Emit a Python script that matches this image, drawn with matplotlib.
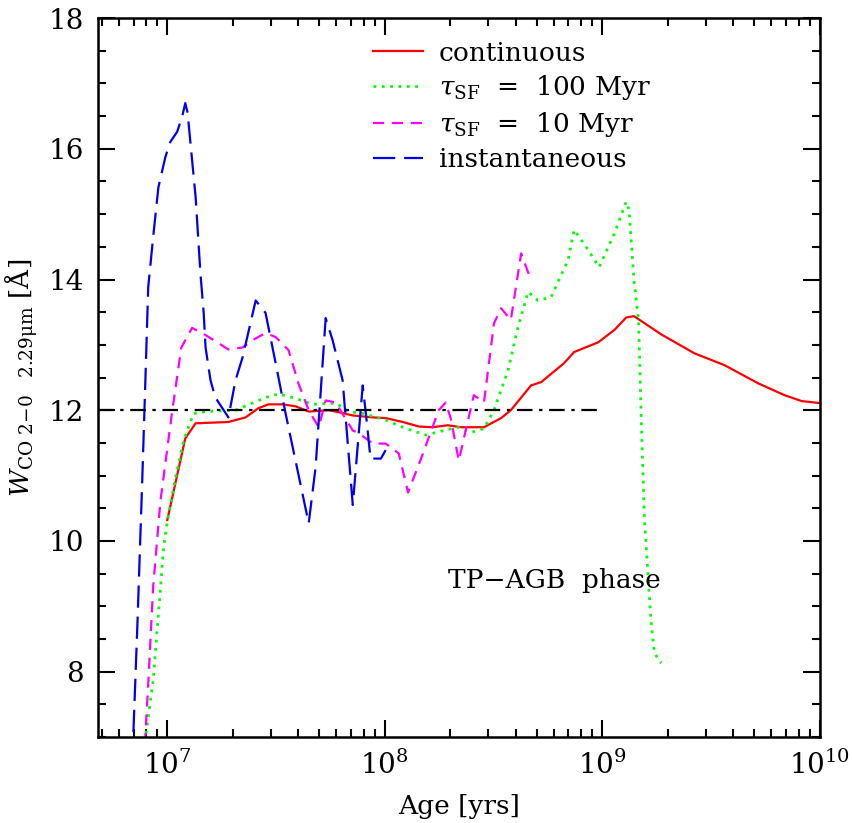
import matplotlib
matplotlib.use("Agg")
import matplotlib.pyplot as plt
from matplotlib.ticker import MultipleLocator, LogLocator, NullFormatter

plt.rcParams.update({"font.family": "serif", "font.serif": ["DejaVu Serif"],
                     "mathtext.fontset": "dejavuserif"})

# ---- data (age in yr, W in Angstrom) ----
cont_age = [1.0e7, 1.21e7, 1.35e7, 1.91e7, 2.29e7, 2.62e7, 2.92e7, 3.39e7, 3.89e7, 4.47e7,
            5.52e7, 6.14e7, 7.13e7, 8.81e7, 1.01e8, 1.21e8, 1.44e8, 1.66e8, 1.95e8, 2.24e8,
            2.86e8, 3.43e8, 3.8e8, 4.71e8, 5.24e8, 6.68e8, 7.43e8, 9.6e8, 1.14e9, 1.29e9,
            1.40e9, 1.87e9, 2.66e9, 3.65e9, 5.23e9, 6.9e9, 8.27e9, 1.0e10]
cont_w = [10.32, 11.57, 11.80, 11.82, 11.89, 12.03, 12.09, 12.09, 12.06, 11.98,
          12.0, 11.97, 11.92, 11.89, 11.88, 11.82, 11.75, 11.74, 11.77, 11.74,
          11.74, 11.88, 12.0, 12.38, 12.43, 12.72, 12.89, 13.04, 13.23, 13.42,
          13.44, 13.16, 12.87, 12.69, 12.41, 12.23, 12.14, 12.11]

t100_age = [7.8e6, 8.61e6, 9.0e6, 9.29e6, 9.59e6, 1.0e7, 1.09e7, 1.19e7, 1.32e7, 1.50e7,
            2.06e7, 2.46e7, 2.92e7, 3.25e7, 3.89e7, 4.66e7, 5.94e7, 6.82e7, 7.92e7, 1.01e8,
            1.25e8, 1.55e8, 1.87e8, 2.17e8, 2.49e8, 2.86e8, 3.18e8, 3.69e8, 4.10e8, 4.56e8,
            5.07e8, 5.82e8, 6.97e8, 7.43e8, 8.44e8, 9.68e8, 1.14e9, 1.29e9, 1.33e9, 1.40e9,
            1.47e9, 1.51e9, 1.56e9, 1.63e9, 1.68e9, 1.74e9, 1.87e9]
t100_w = [6.8, 7.87, 8.68, 9.24, 9.86, 10.3, 10.96, 11.54, 11.95, 11.98,
          12.0, 12.11, 12.21, 12.25, 12.18, 12.09, 12.11, 11.98, 11.95, 11.85,
          11.72, 11.62, 11.69, 11.74, 11.66, 11.72, 12.0, 12.61, 13.27, 13.81,
          13.68, 13.73, 14.30, 14.76, 14.50, 14.19, 14.71, 15.19, 15.06, 13.99,
          13.38, 11.95, 10.42, 9.40, 8.74, 8.28, 8.13]

t10_age = [7.8e6, 8.2e6, 8.61e6, 9.29e6, 1.05e7, 1.16e7, 1.30e7, 1.50e7, 1.91e7, 2.22e7,
           2.46e7, 2.83e7, 3.15e7, 3.61e7, 4.02e7, 4.47e7, 4.97e7, 5.35e7, 5.94e7, 7.13e7,
           7.59e7, 8.81e7, 1.01e8, 1.16e8, 1.28e8, 1.50e8, 1.77e8, 1.91e8, 2.02e8, 2.19e8,
           2.57e8, 2.86e8, 3.18e8, 3.43e8, 3.8e8, 4.24e8, 4.61e8]
t10_w = [6.6, 7.91, 9.3, 10.6, 11.95, 12.96, 13.26, 13.15, 12.93, 12.96,
         13.07, 13.18, 13.12, 12.92, 12.40, 12.0, 11.74, 12.15, 12.12, 11.69,
         11.65, 11.49, 11.49, 11.34, 10.74, 11.34, 12.0, 12.12, 11.85, 11.23,
         12.23, 12.12, 13.33, 13.56, 13.38, 14.40, 14.07]

inst_age = [6.9e6, 7.28e6, 7.67e6, 7.93e6, 8.17e6, 8.61e6, 9.1e6, 9.79e6, 1.03e7, 1.11e7,
            1.17e7, 1.21e7, 1.24e7, 1.30e7, 1.35e7, 1.42e7, 1.47e7, 1.50e7, 1.58e7, 1.66e7,
            1.91e7, 2.06e7, 2.22e7, 2.55e7, 2.83e7, 3.15e7, 3.50e7, 4.47e7, 4.81e7, 5.35e7,
            5.76e7, 6.4e7, 7.13e7, 7.92e7, 8.3e7, 8.6e7, 9.6e7, 1.01e8]
inst_w = [6.6, 8.68, 10.93, 12.46, 13.88, 14.65, 15.41, 15.87, 16.10, 16.26,
          16.49, 16.70, 16.55, 15.83, 15.26, 14.10, 13.49, 12.96, 12.46, 12.20,
          11.89, 12.46, 12.81, 13.68, 13.49, 12.72, 11.95, 10.27, 11.13, 13.41,
          13.07, 12.46, 10.55, 12.38, 11.77, 11.26, 11.26, 11.39]

ref_age = [4.8e6, 1.0e9]
ref_w = [12.0, 12.0]

fig = plt.figure(figsize=(8.52, 8.23), dpi=100)
ax = fig.add_axes([0.115, 0.1045, 0.847, 0.8735])

ax.plot(cont_age, cont_w, color="#ff0000", lw=1.6, label="continuous")
ax.plot(t100_age, t100_w, color="#00ff00", lw=2.0, dashes=(1.0, 2.0),
        label=r"$\tau_{\rm SF}$  =  100 Myr")
ax.plot(t10_age, t10_w, color="#ff00ff", lw=1.6, dashes=(5, 3.5),
        label=r"$\tau_{\rm SF}$  =  10 Myr")
ax.plot(inst_age, inst_w, color="#0000ee", lw=1.6, dashes=(10, 4),
        label="instantaneous")
ax.plot(ref_age, ref_w, color="black", lw=1.6, dashes=(7, 3, 1.5, 3))

ax.text(1.95e8, 9.4, "TP\u2212AGB  phase", fontsize=19, va="center", ha="left")

ax.set_xscale("log")
ax.set_xlim(4.8e6, 1.0e10)
ax.set_ylim(7, 18)
ax.yaxis.set_major_locator(MultipleLocator(2))
ax.yaxis.set_minor_locator(MultipleLocator(0.5))
ax.xaxis.set_major_locator(LogLocator(base=10, numticks=10))
ax.xaxis.set_minor_locator(LogLocator(base=10, subs=range(2, 10), numticks=20))
ax.xaxis.set_minor_formatter(NullFormatter())

ax.tick_params(which="both", direction="in", top=True, right=True, width=1.5)
ax.tick_params(which="major", length=12, labelsize=20, pad=10)
ax.tick_params(which="minor", length=6)
for s in ax.spines.values():
    s.set_linewidth(1.8)

ax.set_xlabel("Age [yrs]", fontsize=19, labelpad=10)
ax.set_ylabel(r"$W_{\mathrm{CO\ 2\!-\!0\ \ \ 2.29\mu m}}$ [Å]", fontsize=19, labelpad=6)

ax.legend(loc="upper left", bbox_to_anchor=(0.35, 1.0), frameon=False, fontsize=19,
          handlelength=1.9, handletextpad=0.6, labelspacing=0.3, borderaxespad=0.45)

fig.savefig("out.png", dpi=100)
